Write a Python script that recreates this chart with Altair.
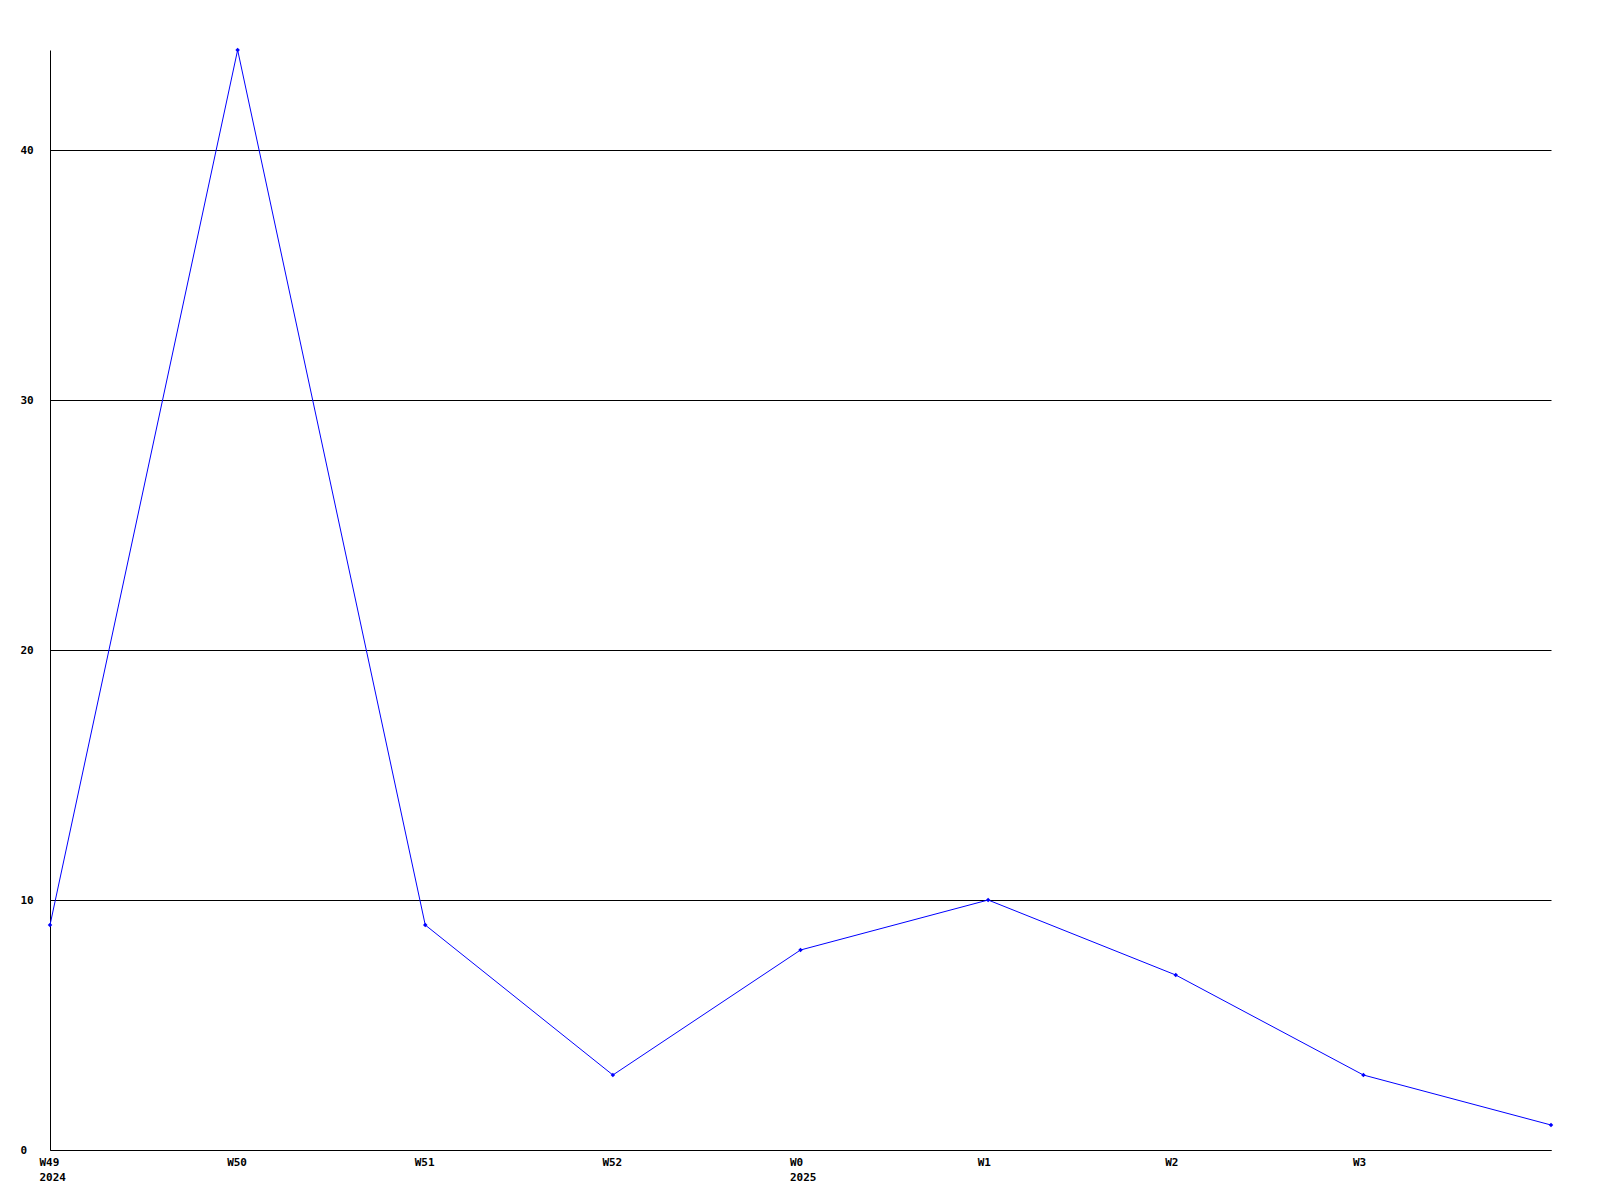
import altair as alt
import pandas as pd

weeks = ["W49", "W50", "W51", "W52", "W0", "W1", "W2", "W3", ""]
years = ["2024", "", "", "", "2025", "", "", "", ""]
values = [9, 44, 9, 3, 8, 10, 7, 3, 1]

df = pd.DataFrame({"idx": list(range(len(values))), "value": values})

label_js = "[" + ",".join(
    "[" + ",".join("'" + p + "'" for p in ([w, y] if y else [w])) + "]"
    for w, y in zip(weeks, years)
) + "]"
label_expr = label_js + "[round(datum.value)]"

font = "DejaVu Sans Mono"

x = alt.X(
    "idx:Q",
    scale=alt.Scale(domain=[0, 8], nice=False, zero=False),
    axis=alt.Axis(
        title=None, values=list(range(8)), labelExpr=label_expr,
        ticks=False, grid=False, domainColor="black", domainWidth=1,
        labelAlign="left", labelOffset=-11, labelBaseline="top", labelPadding=6,
        labelFont=font, labelFontSize=11, labelFontWeight="bold", labelColor="black",
        labelLineHeight=15, labelOverlap=False, labelFlush=False,
    ),
)
y = alt.Y(
    "value:Q",
    scale=alt.Scale(domain=[0, 44], nice=False),
    axis=alt.Axis(
        title=None, values=[0, 10, 20, 30, 40], ticks=False, tickSize=0,
        grid=True, gridColor="black", gridWidth=1, gridOpacity=1,
        domainColor="black", domainWidth=1,
        labelAlign="left", labelPadding=30, labelBaseline="middle",
        labelFont=font, labelFontSize=11, labelFontWeight="bold", labelColor="black",
    ),
)

base = alt.Chart(df)
line = base.mark_line(color="#0000ff", strokeWidth=1).encode(x=x, y=y)
pts = base.mark_point(shape="diamond", filled=True, color="#0000ff", size=20, opacity=1).encode(x=x, y=y)

chart = (line + pts).properties(
    width=1501, height=1100,
    background="white",
    padding={"left": 42, "top": 42, "right": 10, "bottom": 40},
    autosize=alt.AutoSizeParams(type="none"),
).configure_view(stroke="transparent")

chart.save("out.html", embed_options={"renderer": "svg", "actions": False})
